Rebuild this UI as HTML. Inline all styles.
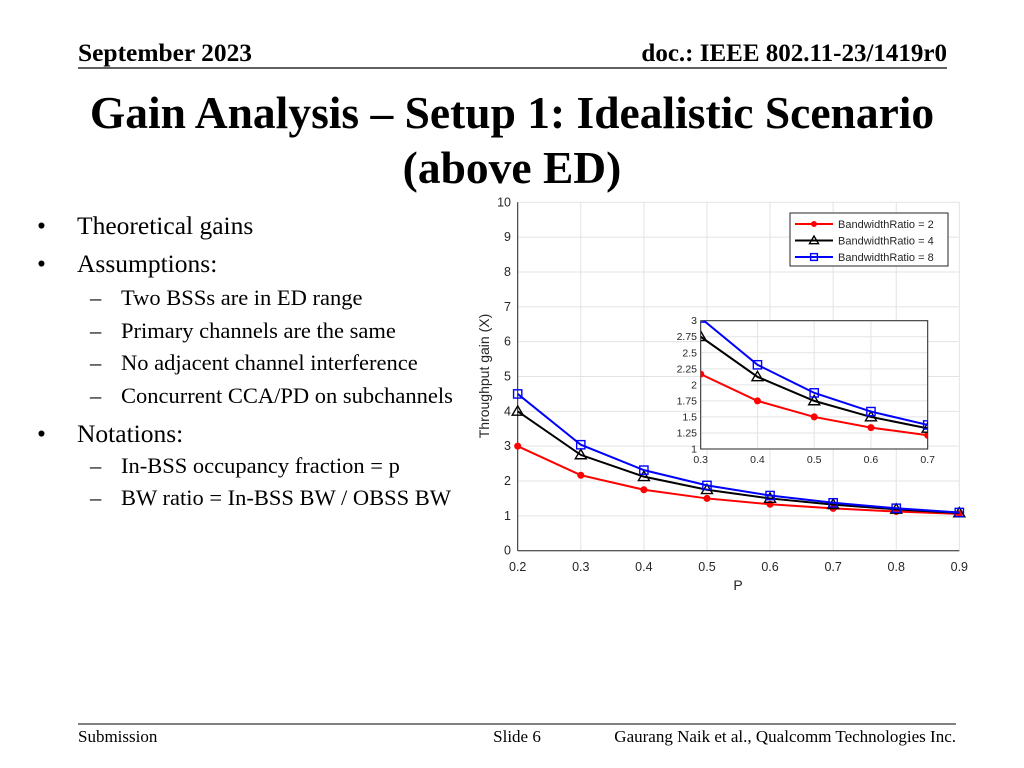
<!DOCTYPE html>
<html><head><meta charset="utf-8"><style>
html,body{margin:0;padding:0;background:#fff;}
svg{display:block}
.s{font-family:"Liberation Serif",serif;fill:#000}
.a{font-family:"Liberation Sans",sans-serif;fill:#262626}
</style></head><body>
<svg id="g" width="1024" height="768" viewBox="0 0 1024 768" xmlns="http://www.w3.org/2000/svg">
<text class="s" x="78" y="61" font-size="25" font-weight="bold" textLength="174" lengthAdjust="spacingAndGlyphs">September 2023</text>
<text class="s" x="947" y="61" font-size="25" font-weight="bold" text-anchor="end">doc.: IEEE 802.11-23/1419r0</text>
<line x1="78" y1="68" x2="947" y2="68" stroke="#000" stroke-width="1.2"/>
<text class="s" x="512" y="128" font-size="45.5" font-weight="bold" text-anchor="middle">Gain Analysis – Setup 1: Idealistic Scenario</text>
<text class="s" x="512" y="183" font-size="45.5" font-weight="bold" text-anchor="middle">(above ED)</text>
<g class="s" font-size="25.5">
<text x="37" y="234">•</text><text x="77" y="234">Theoretical gains</text>
<text x="37" y="272">•</text><text x="77" y="272">Assumptions:</text>
<text x="37" y="442">•</text><text x="77" y="442">Notations:</text>
</g>
<g class="s" font-size="22.5">
<text x="90" y="305">–</text><text x="121" y="305">Two BSSs are in ED range</text>
<text x="90" y="338">–</text><text x="121" y="338">Primary channels are the same</text>
<text x="90" y="370">–</text><text x="121" y="370">No adjacent channel interference</text>
<text x="90" y="403">–</text><text x="121" y="403">Concurrent CCA/PD on subchannels</text>
<text x="90" y="473">–</text><text x="121" y="473">In-BSS occupancy fraction = p</text>
<text x="90" y="505">–</text><text x="121" y="505">BW ratio = In-BSS BW / OBSS BW</text>
</g>
<line x1="78" y1="724" x2="956" y2="724" stroke="#000" stroke-width="1"/>
<text class="s" x="78" y="742" font-size="17">Submission</text>
<text class="s" x="517" y="742" font-size="17" text-anchor="middle">Slide 6</text>
<text class="s" x="956" y="742" font-size="17" text-anchor="end">Gaurang Naik et al., Qualcomm Technologies Inc.</text>
<defs><clipPath id="ic"><rect x="700.7" y="320.7" width="227" height="128.3"/></clipPath></defs>
<g id="chart"></g>
</svg>
<script>
var ns="http://www.w3.org/2000/svg",C=document.getElementById("chart");
function el(t,a,txt){var e=document.createElementNS(ns,t);for(var k in a)e.setAttribute(k,a[k]);if(txt!==undefined)e.textContent=txt;C.appendChild(e);return e;}
var X=function(p){return 517.7+(p-0.2)*630.9},Y=function(v){return 550.7-v*34.84};
var XI=function(p){return 700.7+(p-0.3)*567.5},YI=function(v){return 449-(v-1)*64.15};
for(var i=0;i<=7;i++){var p=0.2+i*0.1;el("line",{x1:X(p),x2:X(p),y1:Y(0),y2:Y(10),stroke:"#e3e3e3","stroke-width":1});
el("text",{x:X(p),y:571,"font-size":12.5,"text-anchor":"middle",class:"a"},p.toFixed(1));}
for(var v=0;v<=10;v++){el("line",{x1:X(0.2),x2:X(0.9),y1:Y(v),y2:Y(v),stroke:"#e3e3e3","stroke-width":1});
el("text",{x:511,y:Y(v)+4,"font-size":12.5,"text-anchor":"end",class:"a"},v);}
el("line",{x1:X(0.2),x2:X(0.2),y1:Y(0),y2:Y(10),stroke:"#262626"});
el("line",{x1:X(0.2),x2:X(0.9),y1:Y(0),y2:Y(0),stroke:"#262626"});
el("text",{x:738,y:590,"font-size":14,"text-anchor":"middle",class:"a"},"P");
el("text",{x:0,y:0,"font-size":14,"text-anchor":"middle",class:"a",transform:"translate(489,376) rotate(-90)"},"Throughput gain (X)");
var S=[{r:2,c:"#f00",m:"o"},{r:4,c:"#000",m:"t"},{r:8,c:"#00f",m:"s"}];
function f(r,p){return (1-1/r)/p+1/r;}
function mark(m,x,y,c,sz,cl){
 var a;
 if(m=="o")a={cx:x,cy:y,r:sz*0.55,fill:c,stroke:c};
 else if(m=="t")a={d:"M"+x+","+(y-sz)+"L"+(x+sz)+","+(y+sz*0.7)+"L"+(x-sz)+","+(y+sz*0.7)+"Z",fill:"none",stroke:c,"stroke-width":1.4};
 else a={x:x-sz*0.75,y:y-sz*0.75,width:sz*1.5,height:sz*1.5,fill:"none",stroke:c,"stroke-width":1.4};
 if(cl)a["clip-path"]="url(#ic)";
 el(m=="o"?"circle":m=="t"?"path":"rect",a);
}
S.forEach(function(s){var d="";for(var i=0;i<=7;i++){var p=0.2+i*0.1;d+=(i?"L":"M")+X(p)+","+Y(f(s.r,p));}
el("path",{d:d,fill:"none",stroke:s.c,"stroke-width":2});
for(var i=0;i<=7;i++){var p=0.2+i*0.1;mark(s.m,X(p),Y(f(s.r,p)),s.c,5.5);}});
el("rect",{x:790,y:213,width:158,height:53,fill:"#fff",stroke:"#262626"});
S.forEach(function(s,i){var y=224+i*16.5;el("line",{x1:795,x2:833,y1:y,y2:y,stroke:s.c,"stroke-width":2});mark(s.m,814,y,s.c,4.5);
el("text",{x:838,y:y+4,"font-size":11,class:"a"},"BandwidthRatio = "+s.r);});
el("rect",{x:700.7,y:320.7,width:227,height:128.3,fill:"#fff"});
for(var i=0;i<=4;i++){var p=0.3+i*0.1;el("line",{x1:XI(p),x2:XI(p),y1:YI(1),y2:YI(3),stroke:"#e3e3e3"});
el("text",{x:XI(p),y:463,"font-size":10.5,"text-anchor":"middle",class:"a"},p.toFixed(1));}
for(var k=0;k<=8;k++){var v=1+k*0.25;el("line",{x1:XI(0.3),x2:XI(0.7),y1:YI(v),y2:YI(v),stroke:"#e3e3e3"});
el("text",{x:697,y:YI(v)+3.5,"font-size":10.5,"text-anchor":"end",class:"a"},String(v));}
el("rect",{x:700.7,y:320.7,width:227,height:128.3,fill:"none",stroke:"#262626"});
S.forEach(function(s){var d="";for(var i=0;i<=4;i++){var p=0.3+i*0.1;d+=(i?"L":"M")+XI(p)+","+YI(f(s.r,p));}
el("path",{d:d,fill:"none",stroke:s.c,"stroke-width":2,"clip-path":"url(#ic)"});
for(var i=0;i<=4;i++){var p=0.3+i*0.1;mark(s.m,XI(p),YI(f(s.r,p)),s.c,5.5,true);}});
</script>
</body></html>
